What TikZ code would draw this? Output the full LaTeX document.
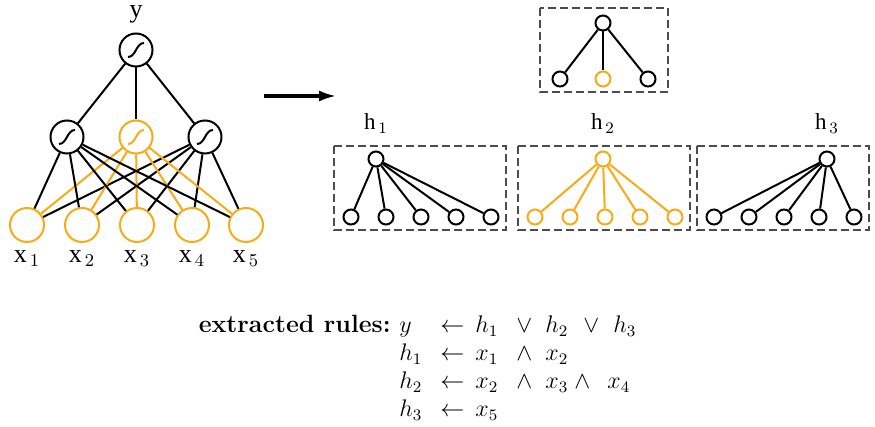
\documentclass[tikz,border=0pt]{standalone}
\usepackage{fontspec}
\newfontfamily\labelfont{Liberation Serif}
\usetikzlibrary{positioning, arrows.meta}
\definecolor{hiorange}{RGB}{250,170,20}

\begin{document}
\begin{tikzpicture}[x=0.5pt, y=-0.5pt,
    neuron/.style={draw, circle, line width=1pt, inner sep=0pt, minimum size=16.5pt,
        path picture={\draw[line width=1pt, shift={(path picture bounding box.center)}]
            (-8,7) .. controls (0,7) and (0,-7) .. (8,-7);}},
    innode/.style={draw=hiorange, circle, line width=1pt, inner sep=0pt, minimum size=17pt},
    dot/.style={draw, circle, line width=1pt, inner sep=0pt, minimum size=7.5pt},
    box/.style={draw=black!70, dash pattern=on 4pt off 2pt, line width=0.6pt},
    edge/.style={line width=1pt},
    xlbl/.style={font=\labelfont\fontsize{13}{15}\selectfont, anchor=base, inner sep=0pt},
    hlbl/.style={font=\labelfont\fontsize{11.5}{13}\selectfont, anchor=base, inner sep=0pt},
    tok/.style={anchor=base west, inner sep=0pt, font=\fontsize{12}{14}\selectfont}]
    \useasboundingbox (0,0) rectangle (875,427);

    % Network (left): output y, three hidden units, five inputs
    \node[neuron] (y) at (136,50) {};
    \node[xlbl] (ylab) at (136,18) {y};
    \foreach \i/\x in {1/67, 3/205}
        \node[neuron] (h\i) at (\x,137) {};
    \node[neuron, color=hiorange] (h2) at (136,137) {};
    \foreach \i/\x in {1/27, 2/82, 3/137, 4/192, 5/246} {
        \node[innode] (x\i) at (\x,225) {};
        \node[xlbl] (xl\i) at (\x,263) {x$_{\,\i}$};
    }

    % Connections: y to hidden, hidden to every input (h2 in orange)
    \foreach \i in {1,2,3}
        \draw[edge] (y) -- (h\i);
    \foreach \j in {1,...,5} {
        \draw[edge] (h1) -- (x\j);
        \draw[edge] (h3) -- (x\j);
        \draw[edge, hiorange] (h2) -- (x\j);
    }

    % Extraction arrow
    \coordinate (arrs) at (264,96);
    \coordinate (arre) at (337,96);
    \draw[line width=2.2pt, -{Latex[length=9pt,width=5.5pt]}] (arrs) -- (arre);

    % Output unit sub-network (top right)
    \draw[box] (540,8) rectangle (668,92);
    \node[dot] (t0) at (603,23) {};
    \foreach \i/\x/\col in {1/560/black, 2/603/hiorange, 3/648/black} {
        \node[dot, draw=\col] (t\i) at (\x,79) {};
        \draw[edge] (t0) -- (t\i);
    }

    % Hidden unit sub-networks h1, h2, h3: box, top unit, five inputs
    \foreach \k/\bx/\tx/\col in {1/334/376/black, 2/518/603/hiorange, 3/697/827/black} {
        \draw[box] (\bx,146) rectangle ++(172,84);
        \node[dot, draw=\col] (s\k) at (\tx,159) {};
        \node[hlbl] (sl\k) at (\tx,130) {h$_{\,\k}$};
        \foreach \i in {1,...,5} {
            \node[dot, draw=\col] (s\k-\i) at ({\bx+17+(\i-1)*35},217) {};
            \draw[edge, \col] (s\k) -- (s\k-\i);
        }
    }

    % Extracted rules (bottom)
    \node[font=\fontsize{12.5}{14}\selectfont\bfseries, anchor=base east, inner sep=0pt] (rtitle) at (391,333) {extracted rules:};
    \foreach \x/\t in {399/y, 440/\leftarrow, 475/h_1, 516/\vee, 545/h_2, 583/\vee, 613/h_3}
        \node[tok] (ra-\x) at (\x,333) {$\t$};
    \foreach \x/\t in {399/h_1, 440/\leftarrow, 475/x_1, 516/\wedge, 545/x_2}
        \node[tok] (rb-\x) at (\x,361) {$\t$};
    \foreach \x/\t in {399/h_2, 440/\leftarrow, 475/x_2, 516/\wedge, 545/x_3, 574/\wedge, 607/x_4}
        \node[tok] (rc-\x) at (\x,389) {$\t$};
    \foreach \x/\t in {399/h_3, 440/\leftarrow, 475/x_5}
        \node[tok] (rd-\x) at (\x,417) {$\t$};
\end{tikzpicture}
\end{document}
